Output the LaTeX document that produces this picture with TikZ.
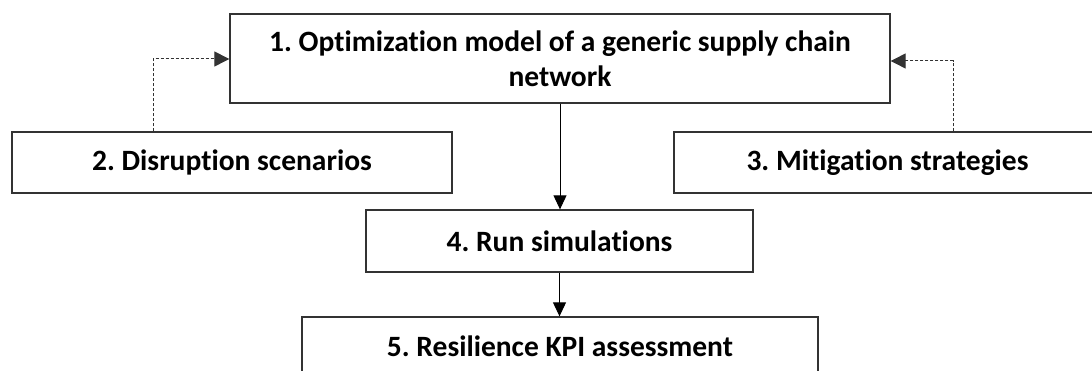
\documentclass[tikz,border=0pt]{standalone}
\usepackage{fontspec}
\setmainfont{Carlito}[RawFeature=-liga]
\usetikzlibrary{arrows.meta}
\definecolor{edge}{HTML}{333333}
\tikzset{
  box/.style={draw=edge, line width=1.3pt, fill=white, inner sep=0pt, align=center,
    font=\fontsize{29.5}{35}\selectfont\bfseries\frenchspacing},
  arr/.style={draw=black, line width=1pt, -{Triangle[width=13pt,length=14pt]}},
  darr/.style={draw=edge, line width=1pt, dash pattern=on 3pt off 2pt,
    -{Triangle[width=15pt,length=15pt]}}
}
\begin{document}
\begin{tikzpicture}[x=1pt,y=-1pt]
\useasboundingbox (0,0) rectangle (1092,371);
\node[box, minimum width=660pt, minimum height=89pt] (n1) at (560,58.5)
  {1. Optimization model of a generic supply chain\\network};
\node[box, minimum width=440pt, minimum height=61pt] (n2) at (232,162.5)
  {2. Disruption scenarios};
\node[box, minimum width=427pt, minimum height=61pt] (n3) at (887.5,162.5)
  {3. Mitigation strategies};
\node[box, minimum width=387pt, minimum height=62pt] (n4) at (559.5,241)
  {4. Run simulations};
\node[box, minimum width=516pt, minimum height=58pt] (n5) at (560,346)
  {5. Resilience KPI assessment};
\coordinate (d1) at (153,59);
\coordinate (d2) at (953,61);
\draw[arr] (n1.south) -- (n1.south |- n4.north);
\draw[arr] (n4.south) -- (n4.south |- n5.north);
\draw[darr] (n2.north -| d1) |- (n1.west |- d1);
\draw[darr] (n3.north -| d2) |- (n1.east |- d2);
\end{tikzpicture}
\end{document}
